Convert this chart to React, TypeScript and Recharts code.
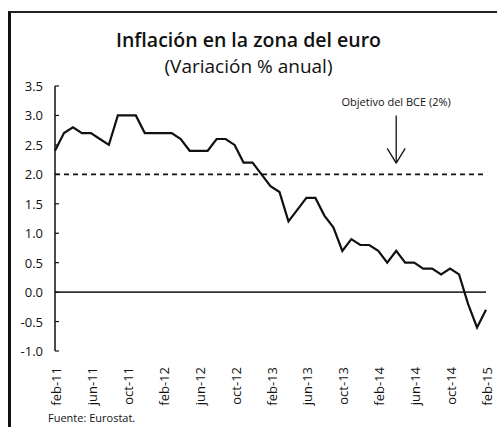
import { LineChart, Line, XAxis, YAxis, ReferenceLine, ReferenceDot } from 'recharts'

// meses feb-11 … feb-15 (etiquetas del eje X)
const MONTHS = [
  'feb-11', 'mar-11', 'abr-11', 'may-11', 'jun-11', 'jul-11', 'ago-11', 'sep-11', 'oct-11', 'nov-11', 'dic-11',
  'ene-12', 'feb-12', 'mar-12', 'abr-12', 'may-12', 'jun-12', 'jul-12', 'ago-12', 'sep-12', 'oct-12', 'nov-12', 'dic-12',
  'ene-13', 'feb-13', 'mar-13', 'abr-13', 'may-13', 'jun-13', 'jul-13', 'ago-13', 'sep-13', 'oct-13', 'nov-13', 'dic-13',
  'ene-14', 'feb-14', 'mar-14', 'abr-14', 'may-14', 'jun-14', 'jul-14', 'ago-14', 'sep-14', 'oct-14', 'nov-14', 'dic-14',
  'ene-15', 'feb-15',
]

// IPCA zona euro, variación % anual
const INFLATION = [
  2.4, 2.7, 2.8, 2.7, 2.7, 2.6, 2.5, 3.0, 3.0, 3.0, 2.7,
  2.7, 2.7, 2.7, 2.6, 2.4, 2.4, 2.4, 2.6, 2.6, 2.5, 2.2, 2.2,
  2.0, 1.8, 1.7, 1.2, 1.4, 1.6, 1.6, 1.3, 1.1, 0.7, 0.9, 0.8,
  0.8, 0.7, 0.5, 0.7, 0.5, 0.5, 0.4, 0.4, 0.3, 0.4, 0.3, -0.2,
  -0.6, -0.3,
]

const Y_TICKS = [-1.0, -0.5, 0.0, 0.5, 1.0, 1.5, 2.0, 2.5, 3.0, 3.5]
const TARGET = 2.0
const ANNOTATION = 'Objetivo del BCE (2%)'
const ARROW_AT = 'abr-14'

const FONT = '"Open Sans", sans-serif'
const INK = '#111'

const data = MONTHS.map((m, i) => ({ m, v: INFLATION[i] }))

// etiqueta Y con pequeña marca hacia dentro
function YTick({ x, y, payload }: any) {
  return (
    <g>
      <line x1={x} x2={x + 4} y1={y} y2={y} stroke={INK} strokeWidth={1.2} />
      <text x={x - 12} y={y} textAnchor="end" dominantBaseline="central" fontSize={13} fill={INK} fontFamily={FONT}>
        {payload.value.toFixed(1)}
      </text>
    </g>
  )
}

// etiqueta X girada 90°
function XTick({ x, y, payload }: any) {
  return (
    <text
      transform={`translate(${x + 1},${y + 8}) rotate(-90)`}
      textAnchor="end"
      dominantBaseline="central"
      fontSize={13}
      fill={INK}
      fontFamily={FONT}
    >
      {payload.value}
    </text>
  )
}

export default function App() {
  return (
    <div style={{ position: 'absolute', left: 0, top: 0, width: 497, height: 427, background: '#fff', overflow: 'hidden' }}>
      <div style={{ position: 'absolute', left: 8, top: 11, width: 500, height: 430, borderLeft: '3px solid #111', borderTop: '2px solid #222' }} />
      <div style={{ position: 'absolute', left: 0, width: 497, top: 28.5, textAlign: 'center', fontFamily: FONT, fontWeight: 600, fontSize: 19.5, color: INK, lineHeight: '22px' }}>
        Inflación en la zona del euro
      </div>
      <div style={{ position: 'absolute', left: 0, width: 497, top: 56, textAlign: 'center', fontFamily: FONT, fontSize: 19, color: INK, lineHeight: '20px' }}>
        (Variación % anual)
      </div>
      <div style={{ position: 'absolute', left: 0, top: 0 }}>
        <LineChart width={497} height={427} data={data} margin={{ top: 86, right: 11, bottom: 26, left: 0 }}>
          <XAxis
            dataKey="m"
            interval={3}
            padding={{ left: 0, right: 0 }}
            axisLine={false}
            tickLine={false}
            tick={<XTick />}
            height={50}
          />
          <YAxis
            domain={[-1, 3.5]}
            ticks={Y_TICKS}
            width={55}
            tickSize={0}
            tickMargin={0}
            axisLine={{ stroke: INK, strokeWidth: 1.5 }}
            tickLine={false}
            tick={<YTick />}
            interval={0}
          />
          <ReferenceLine y={TARGET} stroke={INK} strokeWidth={1.6} strokeDasharray="5 4" />
          <ReferenceLine y={0} stroke="#333" strokeWidth={1.6} />
          <ReferenceLine segment={[{ x: ARROW_AT, y: 3.0 }, { x: ARROW_AT, y: 2.19 }]} stroke={INK} strokeWidth={1.3} />
          <ReferenceLine segment={[{ x: 'mar-14', y: 2.44 }, { x: ARROW_AT, y: 2.19 }]} stroke={INK} strokeWidth={1.3} />
          <ReferenceLine segment={[{ x: 'may-14', y: 2.44 }, { x: ARROW_AT, y: 2.19 }]} stroke={INK} strokeWidth={1.3} />
          <ReferenceDot
            x={ARROW_AT}
            y={3.0}
            r={0}
            stroke="none"
            label={{ value: ANNOTATION, position: 'top', offset: 9, fontSize: 11, fill: INK, fontFamily: FONT }}
          />
          <Line dataKey="v" stroke={INK} strokeWidth={2.2} dot={false} isAnimationActive={false} />
        </LineChart>
      </div>
      <div style={{ position: 'absolute', left: 48, top: 410, fontFamily: FONT, fontSize: 11, color: INK }}>
        Fuente: Eurostat.
      </div>
    </div>
  )
}
